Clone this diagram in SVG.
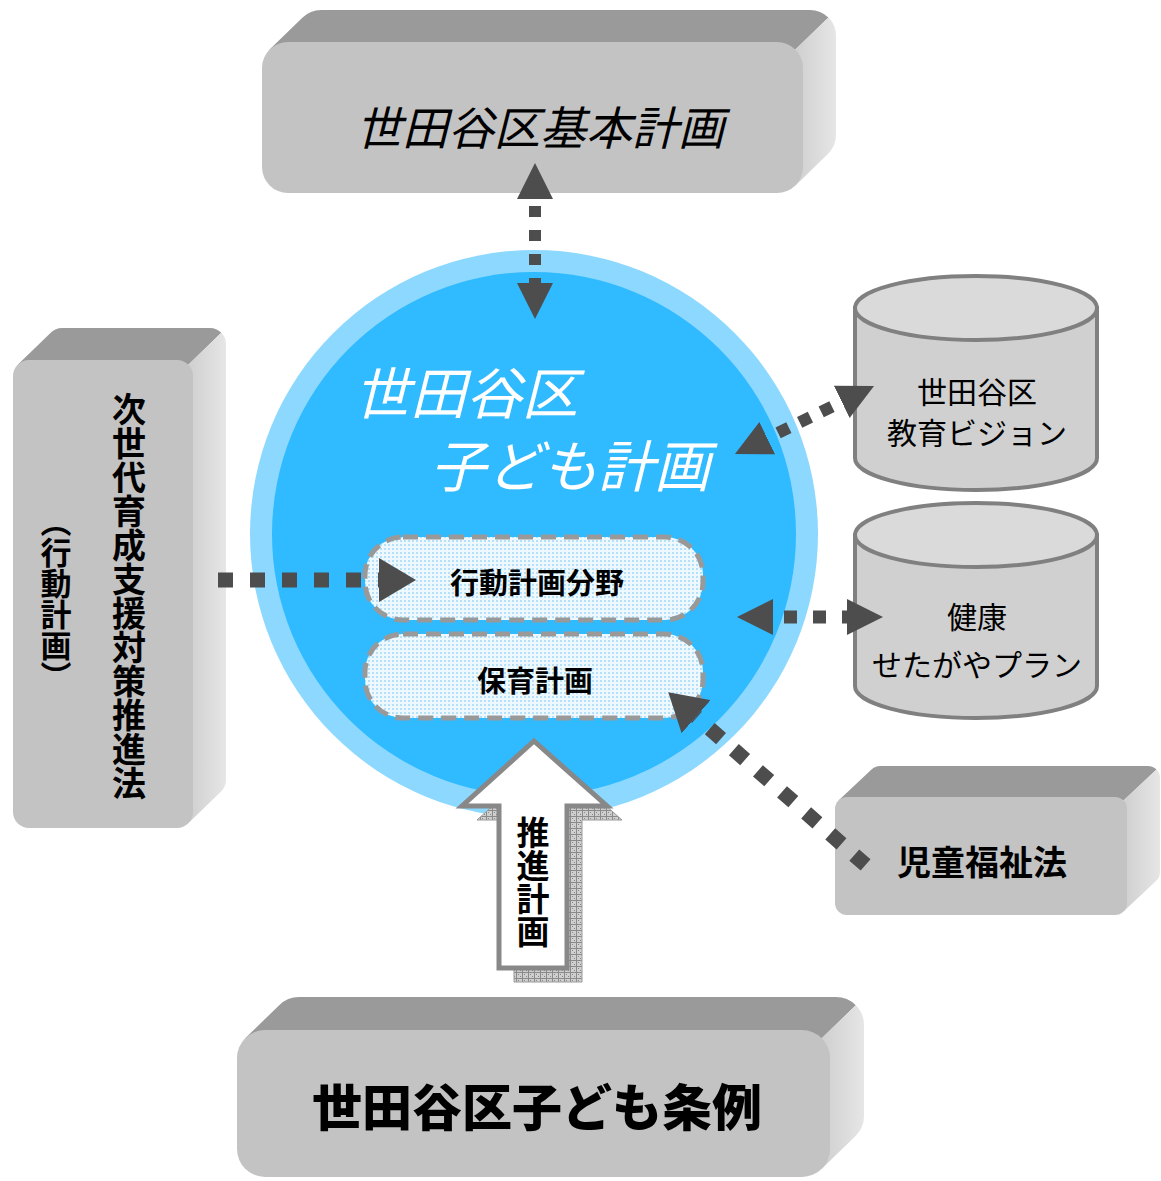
<svg xmlns="http://www.w3.org/2000/svg" width="1161" height="1181" viewBox="0 0 1161 1181">
  <defs>
    <linearGradient id="sideGrad" x1="0" y1="0" x2="1" y2="0">
      <stop offset="0" stop-color="#cfcfcf"/>
      <stop offset="1" stop-color="#e6e6e6"/>
    </linearGradient>
    <pattern id="dotBlue" width="4" height="4" patternUnits="userSpaceOnUse">
      <rect width="4" height="4" fill="#eef9ff"/>
      <rect width="2" height="2" fill="#b5e0f8"/>
    </pattern>
    <pattern id="hatch" width="6" height="6" patternUnits="userSpaceOnUse">
      <rect width="6" height="6" fill="#cfcfcf"/>
      <rect width="1" height="1" x="2" y="2" fill="#888"/>
      <rect width="1" height="1" x="4" y="4" fill="#888"/>
      <path d="M0,0.5 H6 M0.5,0 V6" stroke="#8a8a8a" stroke-width="1"/>
    </pattern>
    <marker id="ah" markerUnits="userSpaceOnUse" markerWidth="36" markerHeight="36" viewBox="0 0 36 36" refX="0" refY="18" orient="auto-start-reverse">
      <path d="M0,0 L36,18 L0,36 Z" fill="#4d4d4d"/>
    </marker>
    <marker id="ahB" markerUnits="userSpaceOnUse" markerWidth="37" markerHeight="44" viewBox="0 0 37 44" refX="0" refY="22" orient="auto-start-reverse">
      <path d="M0,0 L37,22 L0,44 Z" fill="#4d4d4d"/>
    </marker>
  </defs>
  <style>
    .top { fill: #9a9a9a; }
    .side { fill: url(#sideGrad); }
    .front { fill: #c3c3c3; }
    .jp { font-family: "Noto Sans CJK JP", "Noto Sans CJK SC", sans-serif; }
    .cyl { fill: #d0d0d0; stroke: #808080; stroke-width: 4; }
    .cyltop { fill: #dadada; stroke: #808080; stroke-width: 4; }
    .inner { fill: url(#dotBlue); stroke: #999999; stroke-width: 5; stroke-dasharray: 15 8; }
    .conn { fill: none; stroke: #4d4d4d; }
  </style>

  <rect width="1161" height="1181" fill="#ffffff"/>

  <!-- 世田谷区基本計画 -->
  <g id="node-kihonkeikaku">
    <path class="top" d="M269.6,49.6 L302.6,17.6 A26,26 0 0 1 321,10 L810,10 A26,26 0 0 1 828.4,17.6 L795.4,49.6 Z"/>
    <path class="side" d="M795.4,49.6 L828.4,17.6 A26,26 0 0 1 836,36 L836,135 A26,26 0 0 1 828.4,153.4 L795.4,185.4 Z"/>
    <rect class="front" x="262" y="42" width="541" height="151" rx="26"/>
    <text class="jp" x="540" y="125" font-size="46" font-style="italic" text-anchor="middle" dominant-baseline="central" fill="#000">世田谷区基本計画</text>
  </g>

  <!-- 次世代育成支援対策推進法 -->
  <g id="node-jisedai">
    <path class="top" d="M17.7,364.7 L50.7,332.7 A16,16 0 0 1 62,328 L210,328 A16,16 0 0 1 221.3,332.7 L188.3,364.7 Z"/>
    <path class="side" d="M188.3,364.7 L221.3,332.7 A16,16 0 0 1 226,344 L226,780 A16,16 0 0 1 221.3,791.3 L188.3,823.3 Z"/>
    <rect class="front" x="13" y="360" width="180" height="468" rx="16"/>
    <text class="jp" x="129" y="596" font-size="34" font-weight="bold" text-anchor="middle" style="writing-mode: vertical-rl;" fill="#000">次世代育成支援対策推進法</text>
    <text class="jp" x="56" y="599" font-size="31" font-weight="bold" text-anchor="middle" style="writing-mode: vertical-rl;" fill="#000">（行動計画）</text>
  </g>

  <!-- 世田谷区子ども計画 (circle) -->
  <g id="node-kodomokeikaku">
    <circle cx="534" cy="534" r="284" fill="#8dd8ff"/>
    <circle cx="534" cy="534" r="262" fill="#30baff"/>
    <text class="jp" x="466" y="389" font-size="56" font-style="italic" text-anchor="middle" dominant-baseline="central" fill="#ffffff">世田谷区</text>
    <text class="jp" x="570" y="462" font-size="56" font-style="italic" text-anchor="middle" dominant-baseline="central" fill="#ffffff">子ども計画</text>
  </g>

  <g id="node-koudoukeikaku">
    <rect class="inner" x="365" y="537" width="338" height="83" rx="38"/>
    <text class="jp" x="537" y="581" font-size="29" font-weight="bold" text-anchor="middle" dominant-baseline="central" fill="#000">行動計画分野</text>
  </g>

  <g id="node-hoiku">
    <rect class="inner" x="365" y="634" width="338" height="84" rx="38"/>
    <text class="jp" x="535" y="679" font-size="29" font-weight="bold" text-anchor="middle" dominant-baseline="central" fill="#000">保育計画</text>
  </g>

  <!-- 推進計画 arrow -->
  <g id="node-suishin">
    <path d="M549,755 L622,820 L582,820 L582,982 L514,982 L514,820 L477,820 Z" fill="url(#hatch)" stroke="#9a9a9a" stroke-width="1"/>
    <path d="M534,741 L607,806 L567,806 L567,968 L499,968 L499,806 L462,806 Z" fill="#ffffff" stroke="#888888" stroke-width="5" stroke-linejoin="miter"/>
    <text class="jp" x="533" y="882" font-size="33" font-weight="bold" text-anchor="middle" style="writing-mode: vertical-rl;" fill="#000">推進計画</text>
  </g>

  <!-- 教育ビジョン cylinder -->
  <g id="node-kyouiku">
    <path class="cyl" d="M855,308 L855,458 A121,32 0 0 0 1097,458 L1097,308 Z"/>
    <ellipse class="cyltop" cx="976" cy="308" rx="121" ry="32"/>
    <text class="jp" x="977" y="390" font-size="30" text-anchor="middle" dominant-baseline="central" fill="#000">世田谷区</text>
    <text class="jp" x="977" y="431" font-size="30" text-anchor="middle" dominant-baseline="central" fill="#000">教育ビジョン</text>
  </g>

  <!-- 健康せたがやプラン cylinder -->
  <g id="node-kenkou">
    <path class="cyl" d="M855,535 L855,686 A121,32 0 0 0 1097,686 L1097,535 Z"/>
    <ellipse class="cyltop" cx="976" cy="535" rx="121" ry="32"/>
    <text class="jp" x="977" y="615" font-size="30" text-anchor="middle" dominant-baseline="central" fill="#000">健康</text>
    <text class="jp" x="977" y="663" font-size="30" text-anchor="middle" dominant-baseline="central" fill="#000">せたがやプラン</text>
  </g>

  <!-- 児童福祉法 -->
  <g id="node-jidou">
    <path class="top" d="M838.5,800.5 L871.5,769.5 A12,12 0 0 1 880,766 L1148,766 A12,12 0 0 1 1156.5,769.5 L1123.5,800.5 Z"/>
    <path class="side" d="M1123.5,800.5 L1156.5,769.5 A12,12 0 0 1 1160,778 L1160,872 A12,12 0 0 1 1156.5,880.5 L1123.5,911.5 Z"/>
    <rect class="front" x="835" y="797" width="292" height="118" rx="12"/>
    <text class="jp" x="982" y="860" font-size="34" font-weight="bold" text-anchor="middle" dominant-baseline="central" fill="#000">児童福祉法</text>
  </g>

  <!-- 世田谷区子ども条例 -->
  <g id="node-jourei">
    <path class="top" d="M245.2,1038.2 L279.2,1005.2 A28,28 0 0 1 299,997 L836,997 A28,28 0 0 1 855.8,1005.2 L821.8,1038.2 Z"/>
    <path class="side" d="M821.8,1038.2 L855.8,1005.2 A28,28 0 0 1 864,1025 L864,1116 A28,28 0 0 1 855.8,1135.8 L821.8,1168.8 Z"/>
    <rect class="front" x="237" y="1030" width="593" height="147" rx="28"/>
    <text class="jp" x="537" y="1104" font-size="50" font-weight="900" text-anchor="middle" dominant-baseline="central" fill="#000">世田谷区子ども条例</text>
  </g>

  <!-- connectors -->
  <g id="connectors">
    <line class="conn" x1="535" y1="199" x2="535" y2="283" stroke-width="12" stroke-dasharray="11 13" stroke-dashoffset="17" marker-start="url(#ah)" marker-end="url(#ah)"/>
    <line class="conn" x1="218" y1="580" x2="379" y2="580" stroke-width="15" stroke-dasharray="15 17" marker-end="url(#ahB)"/>
    <line class="conn" x1="767.3" y1="438.2" x2="841.7" y2="401.8" stroke-width="12" stroke-dasharray="12 12" stroke-dashoffset="12" marker-start="url(#ah)" marker-end="url(#ah)"/>
    <line class="conn" x1="773" y1="617" x2="847" y2="617" stroke-width="13" stroke-dasharray="13 16" stroke-dashoffset="18" marker-start="url(#ah)" marker-end="url(#ah)"/>
    <line class="conn" x1="865.6" y1="864.9" x2="696.1" y2="716.7" stroke-width="15" stroke-dasharray="15 17" marker-end="url(#ahB)"/>
  </g>
</svg>
